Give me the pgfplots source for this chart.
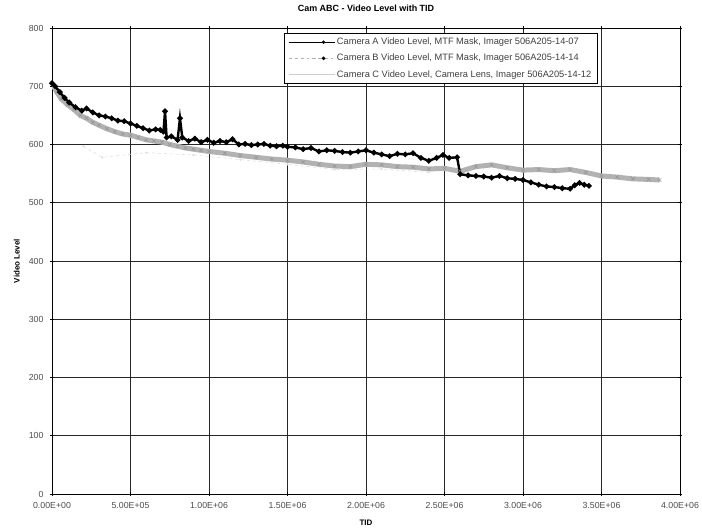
\documentclass[border=0pt]{standalone}
\usepackage{fontspec}
\setmainfont{Liberation Sans}
\usepackage{pgfplots}
\pgfplotsset{compat=1.18}
\usepackage{pgfplotstable}

\pgfplotstableread{
x y
0.00 705
0.02 700
0.05 690
0.08 680
0.11 672
0.15 664
0.19 658
0.22 662
0.26 655
0.30 650
0.34 648
0.38 645
0.42 641
0.46 640
0.50 636
0.54 632
0.58 628
0.62 624
0.66 626
0.69 625
0.71 622
0.72 657
0.73 612
0.76 614
0.80 608
0.815 645
0.83 612
0.87 606
0.91 610
0.95 604
0.99 608
1.03 603
1.07 606
1.11 604
1.15 609
1.19 600
1.23 601
1.27 599
1.31 600
1.35 601
1.39 598
1.43 597
1.47 598
1.50 596
1.55 595
1.60 592
1.65 594
1.70 588
1.75 590
1.80 589
1.85 587
1.90 586
1.95 588
2.00 590
2.05 586
2.10 583
2.15 580
2.20 584
2.25 583
2.30 585
2.35 577
2.40 572
2.45 577
2.49 582
2.53 577
2.58 578
2.60 549
2.65 547
2.70 546
2.75 545
2.80 543
2.85 546
2.90 542
2.95 541
3.00 539
3.05 535
3.10 531
3.15 528
3.20 527
3.25 525
3.30 524
3.33 530
3.36 534
3.39 531
3.42 529
}\camA

\pgfplotstableread{
x y
0.20 597
0.32 578
0.60 586
0.90 582
1.20 574
1.50 566
1.80 557
2.10 558
2.40 552
}\camB

\pgfplotstableread{
x y
0.00 705
0.03 690
0.06 678
0.10 668
0.14 660
0.18 650
0.22 645
0.26 638
0.30 633
0.35 627
0.40 622
0.45 618
0.50 616
0.55 612
0.60 608
0.65 606
0.70 604
0.75 600
0.80 597
0.85 594
0.90 592
0.95 590
1.00 588
1.10 585
1.20 581
1.30 578
1.40 575
1.50 573
1.60 570
1.70 566
1.80 563
1.90 562
2.00 566
2.10 565
2.20 562
2.30 561
2.40 558
2.50 559
2.60 554
2.70 562
2.80 565
2.90 560
3.00 556
3.10 557
3.20 555
3.30 557
3.40 552
3.50 546
3.60 544
3.70 541
3.80 540
3.87 539
}\camC

\begin{document}
\begin{tikzpicture}[x=1bp,y=1bp]
\begin{axis}[
  name=ax,
  scale only axis,
  width=628bp, height=466bp,
  xmin=0, xmax=4, ymin=0, ymax=800,
  xtick={0,0.5,1,1.5,2,2.5,3,3.5,4},
  xticklabels={0.00E+00,5.00E+05,1.00E+06,1.50E+06,2.00E+06,2.50E+06,3.00E+06,3.50E+06,4.00E+06},
  ytick={0,100,...,800},
  /pgf/number format/assume math mode=true,
  ticklabel style={font=\fontsize{8.8}{10}\selectfont, text=black!70},
  xticklabel style={yshift=-3pt},
  yticklabel style={xshift=-3pt},
  grid=major,
  major grid style={black!85, line width=0.6pt},
  axis line style={black, line width=0.9pt},
  tick style={black, line width=0.6pt},
  tick align=center,
  major tick length=4pt,
  xlabel={\bfseries TID},
  ylabel={\bfseries Video Level},
  label style={font=\fontsize{8}{9}\selectfont},
  xlabel style={at={(axis description cs:0.5,-0.062)}, anchor=center},
  ylabel style={at={(axis description cs:-0.056,0.5)}, anchor=center},
]
\addplot[gray!25, line width=0.6pt, dashed, mark=*, mark size=0.8pt, mark options={solid}] table[x=x,y=y] {\camB};
\addplot[gray!60, line width=5pt, mark=x, mark size=2.5pt, mark options={gray!85, line width=0.5pt}] table[x=x,y=y] {\camC};
\addplot[black, line width=2.4pt, mark=*, mark size=1.4pt] table[x=x,y=y] {\camA};
\end{axis}
\begin{axis}[
  scale only axis,
  width=628bp, height=466bp,
  xmin=0, xmax=4, ymin=0, ymax=800,
  hide axis,
  legend style={at={(rel axis cs:0.369,0.99)}, anchor=north west,
    font=\fontsize{9.3}{11}\selectfont, draw=black, line width=0.9pt,
    text=black!75, row sep=4pt, inner xsep=4pt, inner ysep=3pt, fill=white},
  legend image code/.code={\path (0bp,0bp) -- (40bp,0bp); \draw[#1] (24bp,0bp) -- (46bp,0bp); \draw[#1, only marks] plot coordinates {(35bp,0bp)};},
  legend cell align=left,
]
\addlegendimage{black, line width=0.8pt, mark=*, mark size=1.2pt}
\addlegendentry{Camera A Video Level, MTF Mask, Imager 506A205-14-07}
\addlegendimage{gray!60, dashed, line width=0.8pt, mark=*, mark size=1.4pt, mark options={solid, black}}
\addlegendentry{Camera B Video Level, MTF Mask, Imager 506A205-14-14}
\addlegendimage{gray!40, line width=0.8pt}
\addlegendentry{Camera C Video Level, Camera Lens, Imager 506A205-14-12}
\end{axis}
\node[font=\fontsize{9}{10}\selectfont\bfseries, anchor=center] at ([yshift=20bp]ax.north) {Cam ABC - Video Level with TID};
\pgfresetboundingbox
\path ([shift={(-52bp,-37bp)}]ax.south west) rectangle ([shift={(22bp,28bp)}]ax.north east);
\end{tikzpicture}
\end{document}
